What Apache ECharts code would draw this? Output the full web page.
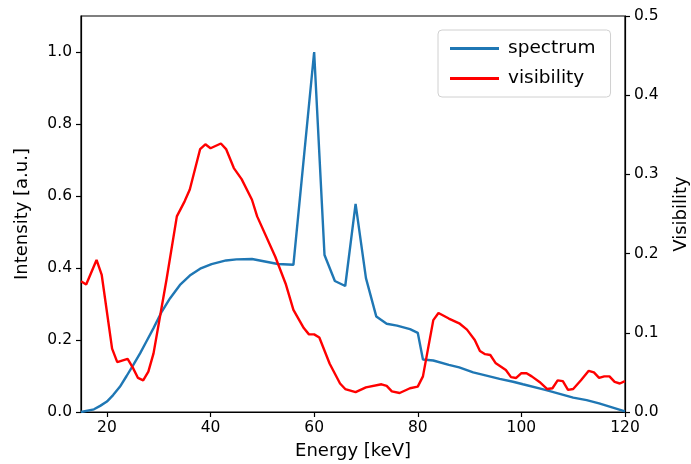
<!DOCTYPE html>
<html lang="en">
<head>
    <meta charset="UTF-8">
    <title>Spectrum and visibility</title>
    <script src="https://cdn.jsdelivr.net/npm/echarts@6/dist/echarts.min.js"></script>
    <style>
        html, body { margin: 0; padding: 0; background: #fff; }
    </style>
</head>
<body>
    <div id="main" style="width: 691px;height:464px;"></div>

    <script type="text/javascript">
        // energy [keV] and intensity of the spectrum
        var specEnergy = [15, 17.5, 18.7, 20, 21.2, 22.5, 23.8, 25.1, 26.4, 27.7, 29, 30.6, 32.2, 34.1, 36, 38, 40.2, 43, 45, 48, 53, 56, 60, 62, 64, 66, 68, 70, 72, 74, 76, 78.5, 80, 81, 83, 86, 88, 90.7, 95.8, 98.4, 100.3, 104.8, 110, 112.6, 115, 120];
        var specValue = [0, 0.0075, 0.017, 0.029, 0.047, 0.070, 0.100, 0.131, 0.163, 0.198, 0.233, 0.279, 0.316, 0.353, 0.379, 0.398, 0.411, 0.421, 0.424, 0.425, 0.411, 0.409, 1.0, 0.436, 0.364, 0.350, 0.578, 0.372, 0.265, 0.245, 0.240, 0.230, 0.220, 0.146, 0.143, 0.131, 0.124, 0.110, 0.092, 0.084, 0.077, 0.061, 0.040, 0.033, 0.024, 0.002];

        // energy [keV] and visibility
        var visEnergy = [15, 16, 18, 19, 21, 22, 24, 25, 26, 27, 28, 29, 31.5, 33.5, 35, 36, 38, 39, 40, 42, 43, 44.5, 46, 48, 49, 52.5, 54.5, 56, 58, 59, 60, 61, 63, 65, 66, 68, 70, 73, 74, 75, 76.5, 78.5, 80, 81, 83, 84, 86, 88, 89.5, 91, 92, 93, 94, 95, 97, 98, 99, 100, 101, 102, 103.5, 105, 106, 107, 108, 109, 110, 111.5, 113, 114, 115, 116, 117, 118, 119, 120];
        var visValue = [0.165, 0.161, 0.192, 0.173, 0.080, 0.063, 0.067, 0.056, 0.043, 0.040, 0.051, 0.074, 0.167, 0.247, 0.266, 0.281, 0.332, 0.338, 0.333, 0.339, 0.332, 0.308, 0.294, 0.268, 0.247, 0.196, 0.162, 0.129, 0.106, 0.098, 0.098, 0.094, 0.061, 0.036, 0.029, 0.025, 0.031, 0.035, 0.033, 0.026, 0.024, 0.030, 0.032, 0.045, 0.116, 0.125, 0.118, 0.112, 0.104, 0.091, 0.077, 0.073, 0.072, 0.062, 0.053, 0.044, 0.043, 0.049, 0.049, 0.045, 0.038, 0.029, 0.030, 0.040, 0.039, 0.028, 0.029, 0.040, 0.052, 0.050, 0.043, 0.045, 0.045, 0.038, 0.036, 0.039];

        var xTicks = [20, 40, 60, 80, 100, 120];
        var leftTicks = [0, 0.2, 0.4, 0.6, 0.8, 1.0];
        var rightTicks = [0, 0.1, 0.2, 0.3, 0.4, 0.5];

        function pairs(xs, ys) {
            var out = [];
            for (var i = 0; i < xs.length; i++) out.push([xs[i], ys[i]]);
            return out;
        }

        var font = 'DejaVu Sans';
        var myChart = echarts.init(document.getElementById('main'));

        var axisCommon = {
            axisLine: { show: true, onZero: false, lineStyle: { color: '#000', width: 1.2 } },
            axisTick: { show: true, inside: false, length: 5, lineStyle: { color: '#000', width: 1.2 } },
            splitLine: { show: false },
            nameTextStyle: { fontFamily: font, fontSize: 18, color: '#000' }
        };

        var option = {
            animation: false,
            grid: {
                left: 81, right: 66, top: 16, bottom: 52,
                outerBoundsMode: 'none',
                show: true, borderColor: '#000', borderWidth: 1.2
            },
            legend: {
                left: 438, top: 30,
                orient: 'vertical',
                itemWidth: 49, itemHeight: 3, itemGap: 11,
                padding: [9, 15, 9, 12],
                borderColor: '#d0d0d0', borderWidth: 1, borderRadius: 4,
                backgroundColor: 'rgba(255,255,255,0.8)',
                icon: 'rect',
                textStyle: { fontFamily: font, fontSize: 18.5, color: '#000', padding: [0, 0, 0, 4] },
                data: ['spectrum', 'visibility']
            },
            xAxis: Object.assign({}, axisCommon, {
                type: 'value', min: 15, max: 120,
                name: 'Energy [keV]', nameLocation: 'middle', nameGap: 30,
                axisTick: Object.assign({}, axisCommon.axisTick, { customValues: xTicks }),
                axisLabel: { customValues: xTicks, fontFamily: font, fontSize: 15.5, color: '#000', margin: 8 }
            }),
            yAxis: [
                Object.assign({}, axisCommon, {
                    type: 'value', min: 0, max: 1.1, position: 'left',
                    name: 'Intensity [a.u.]', nameLocation: 'middle', nameGap: 50,
                    axisTick: Object.assign({}, axisCommon.axisTick, { customValues: leftTicks }),
                    axisLabel: {
                        customValues: leftTicks, fontFamily: font, fontSize: 15.5, color: '#000', margin: 9,
                        formatter: function (v) { return v.toFixed(1); }
                    }
                }),
                Object.assign({}, axisCommon, {
                    type: 'value', min: 0, max: 0.5, interval: 0.1, position: 'right',
                    name: 'Visibility', nameLocation: 'middle', nameGap: 47,
                    axisTick: Object.assign({}, axisCommon.axisTick, { customValues: rightTicks }),
                    axisLabel: {
                        customValues: rightTicks, fontFamily: font, fontSize: 15.5, color: '#000', margin: 9,
                        formatter: function (v) { return v.toFixed(1); }
                    }
                })
            ],
            series: [
                {
                    name: 'spectrum', type: 'line', yAxisIndex: 0,
                    showSymbol: false, symbol: 'none',
                    color: '#1f77b4',
                    lineStyle: { width: 2.4, color: '#1f77b4' },
                    data: pairs(specEnergy, specValue)
                },
                {
                    name: 'visibility', type: 'line', yAxisIndex: 1,
                    showSymbol: false, symbol: 'none',
                    color: '#ff0000',
                    lineStyle: { width: 2.4, color: '#ff0000' },
                    data: pairs(visEnergy, visValue)
                }
            ]
        };

        myChart.setOption(option);
    </script>
</body>
</html>
